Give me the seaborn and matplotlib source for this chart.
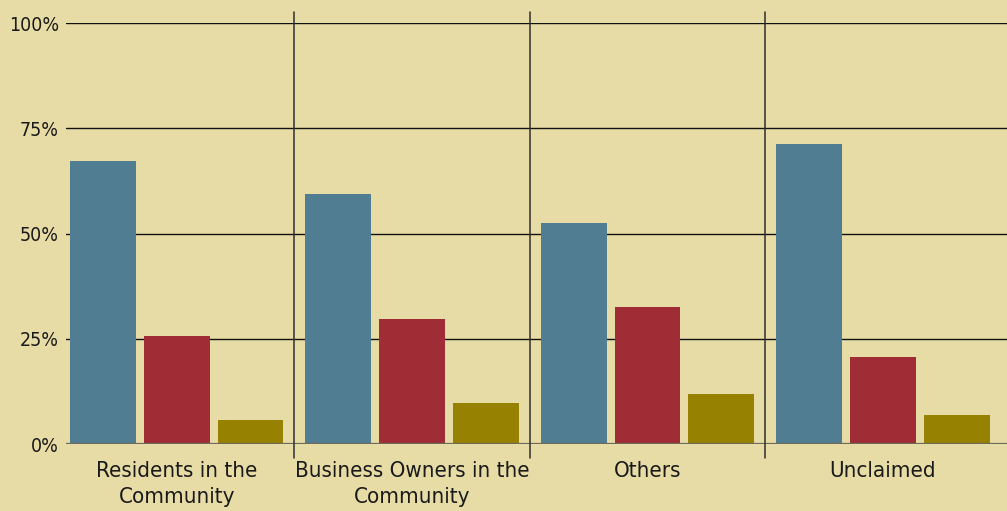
import matplotlib
matplotlib.use("Agg")
import matplotlib.pyplot as plt
from matplotlib import font_manager
import seaborn as sns
import pandas as pd

categories = ["Residents in the\nCommunity", "Business Owners in the\nCommunity", "Others", "Unclaimed"]
series = ["Support", "Oppose", "Neutral"]
support = [67.2, 59.4, 52.5, 71.3]
oppose = [25.7, 29.7, 32.5, 20.7]
neutral = [5.7, 9.7, 11.9, 6.9]
yticks = [0, 25, 50, 75, 100]
ytick_labels = ["0%", "25%", "50%", "75%", "100%"]
colors = ["#507d91", "#a02c36", "#968200"]

rows = []
for s, vals in zip(series, [support, oppose, neutral]):
    for c, v in zip(categories, vals):
        rows.append({"category": c, "series": s, "value": v})
df = pd.DataFrame(rows)

sns.set_style("white")
names = {f.name for f in font_manager.fontManager.ttflist}
if "Liberation Sans Narrow" in names:
    fam = ["Liberation Sans Narrow", "DejaVu Sans"]
    stretch = "normal"
else:
    fam = ["DejaVu Sans"]
    stretch = "condensed"
plt.rcParams["font.family"] = fam
plt.rcParams["font.stretch"] = stretch

bg = "#e8dca6"
fig = plt.figure(figsize=(10.07, 5.11), dpi=100, facecolor=bg)
ax = fig.add_axes([66 / 1007, 1 - 444 / 511, 1 - 66 / 1007, 421 / 511])
ax.set_facecolor(bg)

sns.barplot(data=df, x="category", y="value", hue="series", palette=colors,
            width=0.94, gap=0.108, ax=ax, legend=False, saturation=1,
            edgecolor="none", linewidth=0)

ax.set_ylim(0, 100)
ax.set_xlim(-0.47, 3.527)
ax.set_yticks(yticks)
ax.set_yticklabels(ytick_labels, fontsize=14, color="#1a1a1a")
ax.tick_params(axis="y", length=0, pad=5)
ax.tick_params(axis="x", length=0, pad=12, labelsize=16, labelcolor="#1a1a1a")
for lbl in ax.get_xticklabels():
    lbl.set_linespacing(1.4)
ax.set_xlabel("")
ax.set_ylabel("")
for sp in ax.spines.values():
    sp.set_visible(False)

for y in yticks[1:]:
    ax.axhline(y, color="#111111", lw=1.0, zorder=0)
ax.axhline(0, color="#6e6a5a", lw=1.6, zorder=3)

for xs in [0.5, 1.5, 2.5]:
    ax.plot([xs, xs], [-3.3, 102.6], color="#2e2e2e", lw=1.1, clip_on=False, zorder=4)

fig.savefig("out.png", dpi=100, facecolor=bg)
